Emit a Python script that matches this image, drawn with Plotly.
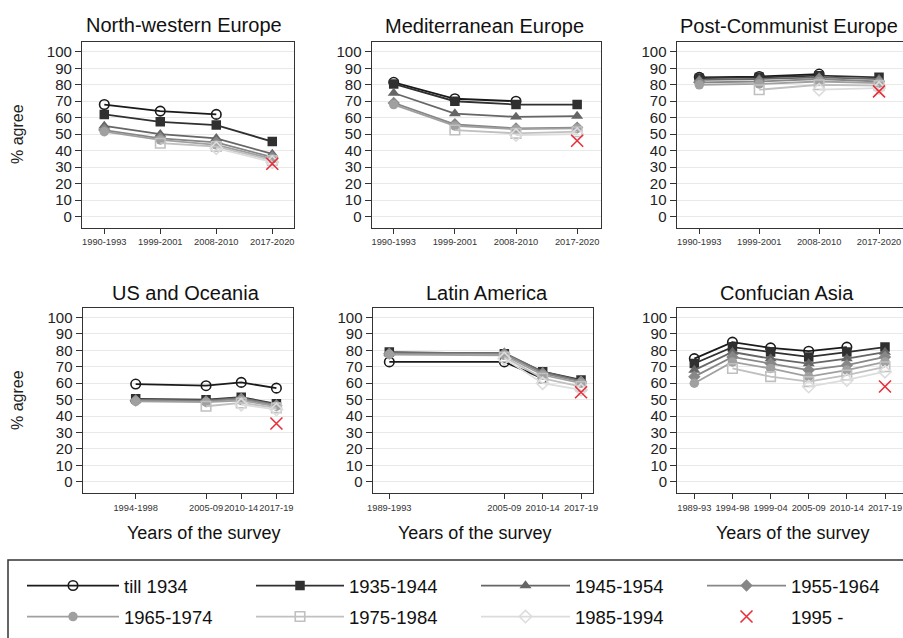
import plotly.graph_objects as go

W, H = 903, 638

# ---------------- data ----------------
cohorts = ["till 1934", "1935-1944", "1945-1954", "1955-1964",
           "1965-1974", "1975-1984", "1985-1994", "1995 -"]

evs_pos = [1, 2, 3, 4]
evs_labels = ["1990-1993", "1999-2001", "2008-2010", "2017-2020"]

us_pos = [3, 5, 6, 7]
us_labels = ["1994-1998", "2005-09", "2010-14", "2017-19"]

la_pos = [2, 5, 6, 7]
la_labels = ["1989-1993", "2005-09", "2010-14", "2017-19"]

ca_pos = [2, 3, 4, 5, 6, 7]
ca_labels = ["1989-93", "1994-98", "1999-04", "2005-09", "2010-14", "2017-19"]

nw_vals = [
    [68, 64, 62, None],
    [62, 57.5, 55.5, 45.5],
    [55, 50, 47.5, 38],
    [52.5, 47.5, 45, 36],
    [51.5, 46.5, 43.5, 35],
    [None, 44.5, 42.5, 34],
    [None, None, 41.5, 33],
    [None, None, None, 32],
]
med_vals = [
    [81.5, 71.5, 70, None],
    [80.5, 70, 68, 68],
    [75, 62.5, 60.5, 61],
    [69, 56, 53.5, 54],
    [68, 55, 53, 53.5],
    [None, 52.5, 50.5, 51.5],
    [None, None, 49.5, 50],
    [None, None, None, 46],
]
pc_vals = [
    [84.5, 85, 86.5, None],
    [84, 84.5, 85.5, 84.5],
    [83, 83.5, 84.5, 83.5],
    [81.5, 82, 83.5, 82],
    [80, 80.5, 82, 81],
    [None, 77, 80, 79.5],
    [None, None, 77, 78],
    [None, None, None, 76],
]
us_vals = [
    [59.5, 58.5, 60.5, 57],
    [50.5, 50, 51.5, 47.5],
    [50, 49.5, 51, 47],
    [49.5, 49, 50.5, 46.5],
    [49, 48.5, 49.5, 46],
    [None, 46, 48, 45],
    [None, None, 47, 44],
    [None, None, None, 35.5],
]
la_vals = [
    [73, 73, 63, None],
    [79, 78, 67, 62],
    [78.5, 78.5, 67, 61.5],
    [78, 78, 66, 61],
    [77.5, 77, 65, 60],
    [None, 76, 63, 58],
    [None, 75, 60, 56],
    [None, None, None, 54.5],
]
ca_vals = [
    [75, 85, 81.5, 79.5, 82, None],
    [72, 82, 79, 76, 79, 82],
    [68, 79, 75, 72, 75, 79],
    [64, 76, 72, 68, 71, 76],
    [60, 73, 69, 64, 68, 73],
    [None, 69, 64, 61, 65, 70],
    [None, None, None, 58, 62, 67],
    [None, None, None, None, None, 58],
]

y_ticks = list(range(0, 101, 10))

# ---------------- styles ----------------
FONT = "Arial, Liberation Sans, sans-serif"
line_colors = ["#1a1a1a", "#303030", "#666666", "#878787",
               "#a0a0a0", "#c0c0c0", "#dcdcdc", "#e8303a"]
symbols = ["circle-open", "square", "triangle-up", "diamond",
           "circle", "square-open", "diamond-open", "x-thin-open"]


def px(x):
    return x / W


def py(y):
    return 1 - y / H


panels = [
    dict(title="North-western Europe", pos=evs_pos, labels=evs_labels, vals=nw_vals,
         xd=(82, 293.5), yd=(42.3, 228), xr=(0.602, 4.379), tx=184, ty=25),
    dict(title="Mediterranean Europe", pos=evs_pos, labels=evs_labels, vals=med_vals,
         xd=(371.7, 601), yd=(42.3, 228), xr=(0.64, 4.39), tx=484, ty=26),
    dict(title="Post-Communist Europe", pos=evs_pos, labels=evs_labels, vals=pc_vals,
         xd=(676.7, 903), yd=(42.3, 228), xr=(0.623, 4.40), tx=789, ty=26),
    dict(title="US and Oceania", pos=us_pos, labels=us_labels, vals=us_vals,
         xd=(82.7, 293.3), yd=(308, 493.3), xr=(1.494, 7.48), tx=186, ty=293),
    dict(title="Latin America", pos=la_pos, labels=la_labels, vals=la_vals,
         xd=(372.7, 593.3), yd=(308, 493.3), xr=(1.567, 7.32), tx=487, ty=293),
    dict(title="Confucian Asia", pos=ca_pos, labels=ca_labels, vals=ca_vals,
         xd=(677.3, 903), yd=(308, 493.3), xr=(1.554, 7.472), tx=787, ty=293),
]

fig = go.Figure()
layout = {}
annotations = []

for i, p in enumerate(panels):
    n = "" if i == 0 else str(i + 1)
    xa, ya = "x" + n, "y" + n
    layout["xaxis" + n] = dict(
        domain=[px(p["xd"][0]), px(p["xd"][1])], range=list(p["xr"]), anchor=ya,
        tickmode="array", tickvals=p["pos"], ticktext=p["labels"], tickangle=0,
        ticks="outside", ticklen=5, tickwidth=1, tickcolor="#333",
        showline=True, linecolor="#333", linewidth=1.3, mirror=True,
        showgrid=False, zeroline=False, automargin=False,
        tickfont=dict(family=FONT, size=9.3, color="#333"),
    )
    layout["yaxis" + n] = dict(
        domain=[py(p["yd"][1]), py(p["yd"][0])], range=[-7, 105.8], anchor=xa,
        tickmode="array", tickvals=y_ticks,
        ticks="outside", ticklen=6, tickwidth=1, tickcolor="#333",
        showline=True, linecolor="#333", linewidth=1.3, mirror=True,
        showgrid=True, gridcolor="#e9e9e9", gridwidth=1, zeroline=False,
        automargin=False,
        tickfont=dict(family=FONT, size=15, color="#222"),
    )
    annotations.append(dict(text=p["title"], x=px(p["tx"]), y=py(p["ty"]),
                            xref="paper", yref="paper", showarrow=False,
                            xanchor="center", yanchor="middle",
                            font=dict(family=FONT, size=20, color="#111")))
    for j, name in enumerate(cohorts):
        is_x = j == 7
        mk = dict(symbol=symbols[j], size=9.5 if j != 2 else 10.5,
                  color=line_colors[j],
                  line=dict(width=1.6 if symbols[j].endswith("open") else 0,
                            color=line_colors[j]))
        if is_x:
            mk = dict(symbol="x-thin-open", size=12,
                      line=dict(width=1.6, color=line_colors[j]), color=line_colors[j])
        fig.add_trace(go.Scatter(
            x=p["pos"], y=p["vals"][j], name=name,
            mode="markers" if is_x else "lines+markers",
            xaxis=xa, yaxis=ya,
            line=dict(color=line_colors[j], width=1.8),
            marker=mk,
            showlegend=(i == 0),
            legend="legend" if j == 0 else "legend" + str(j + 1),
            hoverinfo="skip",
        ))

# axis labels
for yc in (134, 400):
    annotations.append(dict(text="% agree", x=px(17), y=py(yc), xref="paper", yref="paper",
                            showarrow=False, textangle=-90, xanchor="center", yanchor="middle",
                            font=dict(family=FONT, size=16, color="#222")))
for xc in (203, 475, 792):
    annotations.append(dict(text="Years of the survey", x=px(xc), y=py(533), xref="paper",
                            yref="paper", showarrow=False, xanchor="center", yanchor="middle",
                            font=dict(family=FONT, size=18, color="#111")))

# legends: one per cohort, placed on a 4x2 grid
leg_x = [27, 256, 481, 707]
leg_y = [586, 617]
leg_w = [92, 88, 89, 79]
for j in range(8):
    key = "legend" if j == 0 else "legend" + str(j + 1)
    col, row = j % 4, j // 4
    layout[key] = dict(
        x=px(leg_x[col] - 5), y=py(leg_y[row]), xanchor="left", yanchor="middle",
        xref="paper", yref="paper",
        orientation="h", bgcolor="rgba(0,0,0,0)", borderwidth=0,
        itemwidth=leg_w[col], font=dict(family=FONT, size=18.5, color="#111"),
        itemclick=False, itemdoubleclick=False,
    )

fig.update_layout(
    template="none",
    width=W, height=H, margin=dict(l=0, r=0, t=0, b=0, autoexpand=False),
    paper_bgcolor="white", plot_bgcolor="white",
    annotations=annotations,
    shapes=[dict(type="rect", xref="paper", yref="paper",
                 x0=px(8), x1=1.02, y0=py(560), y1=-0.05,
                 line=dict(color="#333", width=1.5), fillcolor="rgba(0,0,0,0)")],
    **layout,
)

fig.write_html(
    "out.html",
    config={"displayModeBar": False},
    post_script="document.body.style.margin='0';"
                "document.documentElement.style.overflow='hidden';",
)
